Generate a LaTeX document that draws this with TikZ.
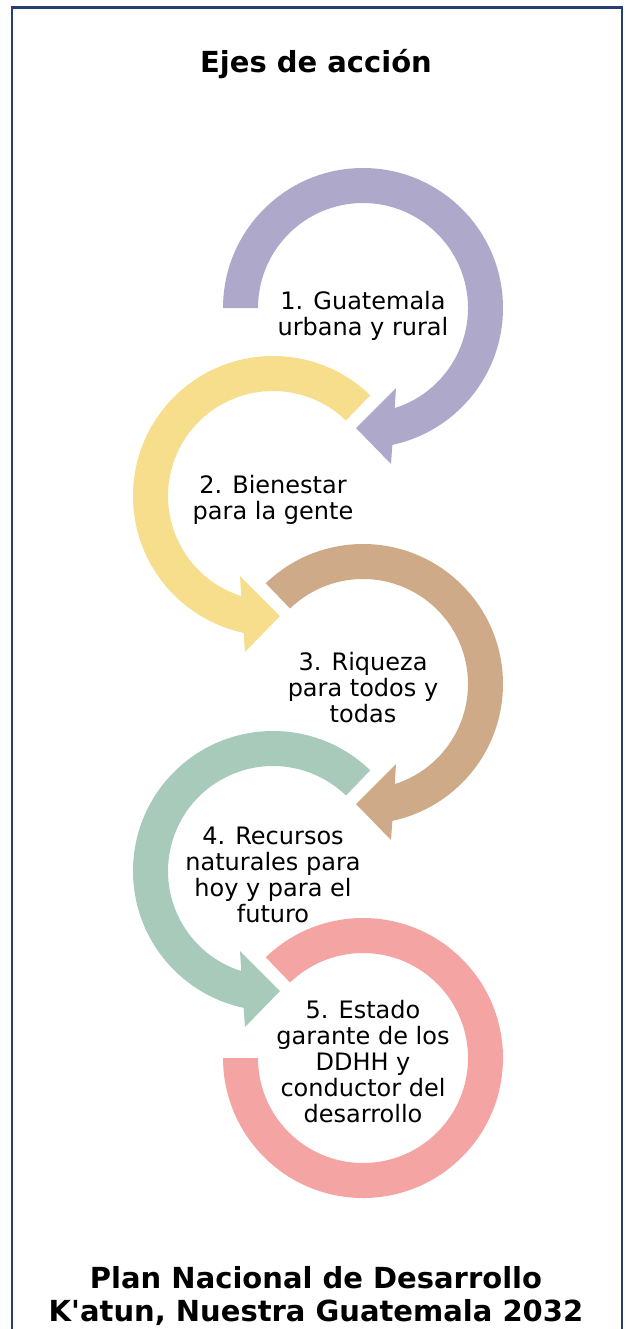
\documentclass[tikz,border=0pt]{standalone}
\usepackage{fontspec}
\setmainfont{DejaVu Sans}
\definecolor{framec}{RGB}{38,62,115}
\definecolor{purp}{RGB}{174,168,203}
\definecolor{yell}{RGB}{247,222,141}
\definecolor{tan}{RGB}{206,170,137}
\definecolor{gree}{RGB}{168,202,187}
\definecolor{pink}{RGB}{245,164,164}
% clockwise arrow band with head at lower left
\newcommand{\cwArrow}[2]{%
  \fill[#2] (#1:140) arc[start angle=#1, end angle=-77.9, radius=140]
    -- (28,-156) -- (-7,-120) -- (33,-80)
    -- (-72.4:105) arc[start angle=-72.4, end angle=#1, radius=105] -- cycle;}
% counter-clockwise arrow band with head at lower right
\newcommand{\ccwArrow}[2]{%
  \fill[#2] (#1:140) arc[start angle=#1, end angle=257.9, radius=140]
    -- (-28,-156) -- (7,-120) -- (-33,-80)
    -- (252.4:105) arc[start angle=252.4, end angle=#1, radius=105] -- cycle;}
\begin{document}
\begin{tikzpicture}[x=0.5pt,y=0.5pt,
  lbl/.style={font=\fontsize{12}{13}\selectfont, align=center, inner sep=0pt, text=black},
  ttl/.style={font=\fontsize{14.5}{16.5}\selectfont\bfseries, inner sep=0pt, anchor=base, text=black}]
\useasboundingbox (0,0) rectangle (626,-1329);
\fill[white] (0,0) rectangle (626,-1329);
\draw[framec, line width=1.1pt] (12,-1340) -- (12,-7.5) -- (622,-7.5) -- (622,-1340);

\coordinate (c1) at (363,-308);
\coordinate (c2) at (273,-496);
\coordinate (c3) at (363,-684);
\coordinate (c4) at (273,-871);
\coordinate (c5) at (363,-1058);

\begin{scope}[shift={(c1)}]\cwArrow{180}{purp}\end{scope}
\begin{scope}[shift={(c2)}]\ccwArrow{46}{yell}\end{scope}
\begin{scope}[shift={(c3)}]\cwArrow{134}{tan}\end{scope}
\begin{scope}[shift={(c4)}]\ccwArrow{46}{gree}\end{scope}
\begin{scope}[shift={(c5)}]
  \fill[pink] (134:140) arc[start angle=134, end angle=-180, radius=140]
    -- (180:105) arc[start angle=-180, end angle=134, radius=105] -- cycle;
\end{scope}

\node[ttl] (title) at (316,-72) {Ejes de acción};
\node[lbl] (t1) at ([yshift=-4]c1) {1. Guatemala\\urbana y rural};
\node[lbl] (t2) at ([yshift=-2]c2) {2. Bienestar\\para la gente};
\node[lbl] (t3) at ([yshift=-2]c3) {3. Riqueza\\para todos y\\todas};
\node[lbl] (t4) at ([yshift=-2]c4) {4. Recursos\\naturales para\\hoy y para el\\futuro};
\node[lbl] (t5) at ([yshift=-2]c5) {5. Estado\\garante de los\\DDHH y\\conductor del\\desarrollo};
\node[ttl] (plan1) at (316,-1288) {Plan Nacional de Desarrollo};
\node[ttl] (plan2) at (316,-1321) {K\textquotesingle atun, Nuestra Guatemala 2032};
\end{tikzpicture}
\end{document}
